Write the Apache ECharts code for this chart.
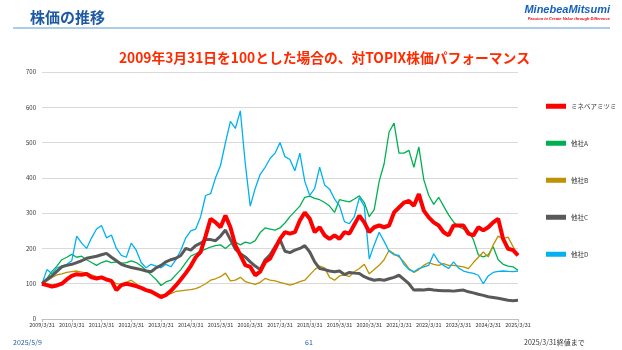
<!DOCTYPE html>
<html>
<head>
<meta charset="utf-8">
<script src="https://cdn.jsdelivr.net/npm/echarts@6/dist/echarts.min.js"></script>
<style>
  html, body { margin: 0; padding: 0; background: #fff; }
  #main { width: 622px; height: 350px; }
</style>
</head>
<body>
<div id="main"></div>
<script>
// bi-monthly samples from 2009/3/31 to 2025/3/31 (6 per year)
var dates = [];
for (var k = 0; k <= 96; k++) {
  var mi = 2 + 2 * k;
  var y = 2009 + Math.floor(mi / 12), m = (mi % 12) + 1;
  dates.push(y + '/' + m + '/' + new Date(y, m, 0).getDate());
}

var names = ['ミネベアミツミ', '他社A', '他社B', '他社C', '他社D'];

var minebea = [
  100, 96, 92, 95, 100, 112,
  122, 127, 125, 128, 118, 115,
  118, 112, 108, 82, 96, 100,
  97, 93, 88, 82, 78, 70,
  62, 68, 80, 95, 112, 130,
  150, 175, 190, 235, 284, 274,
  260, 293, 260, 209, 181, 153,
  148, 124, 134, 162, 171, 199,
  227, 246, 242, 246, 279, 302,
  284, 246, 260, 237, 227, 237,
  227, 246, 242, 268, 293, 274,
  246, 260, 265, 260, 265, 302,
  316, 330, 335, 321, 354, 307,
  288, 274, 265, 246, 237, 265,
  265, 265, 242, 237, 260, 251,
  260, 274, 284, 227, 199, 195,
  180
];
var compA = [
  100, 115, 135, 150, 168, 175,
  183, 175, 178, 168, 160, 152,
  160, 165, 160, 162, 158, 160,
  165, 160, 150, 138, 125, 112,
  95, 105, 110, 125, 140, 160,
  178, 185, 192, 198, 204, 208,
  210, 200, 212, 218, 210, 218,
  214, 222, 245, 258, 255, 252,
  258, 272, 290, 305, 320, 345,
  348, 342, 338, 330, 320, 302,
  338, 335, 332, 340, 349, 330,
  290, 310, 390, 440, 530, 555,
  470, 470, 478, 430, 488, 395,
  350, 325, 345, 320, 295, 275,
  262, 255, 250, 225, 182, 176,
  182, 205, 168, 155, 150, 148,
  138
];
var compB = [
  100, 108, 118, 125, 128, 132,
  134, 136, 133, 130, 125, 120,
  116, 114, 110, 100, 98, 104,
  110, 100, 88, 82, 78, 72,
  68, 68, 72, 78, 80, 82,
  83, 86, 92, 100, 110, 114,
  120, 130, 108, 110, 118, 106,
  102, 98, 104, 115, 110, 108,
  104, 100, 96, 100, 106, 110,
  125, 140, 150, 145, 118, 110,
  122, 125, 120, 134, 143, 155,
  128, 140, 152, 168, 195, 185,
  176, 162, 143, 132, 140, 152,
  160, 155, 152, 157, 152, 152,
  150, 148, 143, 160, 175, 190,
  176, 210, 235, 228, 232, 205,
  180
];
var compC = [
  100, 112, 122, 135, 148, 152,
  155, 160, 165, 172, 175, 178,
  182, 186, 175, 165, 155, 150,
  146, 143, 140, 136, 134, 145,
  152, 162, 168, 172, 180, 200,
  195, 208, 215, 225, 225, 222,
  235, 252, 225, 198, 185, 176,
  162, 150, 140, 168, 182, 205,
  225, 192, 188, 195, 200, 208,
  190, 162, 143, 140, 136, 134,
  136, 126, 132, 130, 129, 120,
  114, 110, 112, 110, 114, 118,
  124, 112, 100, 82, 83, 82,
  84, 82, 81, 80, 80, 79,
  81, 82, 77, 74, 70, 67,
  63, 61, 59, 56, 53, 52,
  53
];
var compD = [
  100, 140, 128, 145, 150, 155,
  165, 235, 215, 200, 230, 255,
  265, 230, 238, 200, 180, 175,
  215, 195, 160, 145, 155, 150,
  145, 155, 148, 168, 195, 230,
  250, 255, 290, 350, 355, 400,
  435, 500, 560, 540, 590, 440,
  320, 370, 410, 430, 455, 470,
  500, 460, 452, 420, 470, 390,
  350, 370, 430, 380, 368, 340,
  321, 276, 270, 290, 344, 320,
  170, 210, 246, 220, 192, 182,
  180, 155, 140, 134, 143, 148,
  152, 185, 162, 152, 143, 162,
  145, 136, 132, 129, 124, 100,
  122, 132, 135, 136, 135, 134,
  136
];

var colors = ['#ff0000', '#00b050', '#bf9000', '#595959', '#00b0f0'];
var widths = [4, 1.3, 1.3, 3, 1.3];
var values = [minebea, compA, compB, compC, compD];

var font = '"Noto Sans CJK JP", "Noto Sans", sans-serif';

var myChart = echarts.init(document.getElementById('main'));

myChart.setOption({
  animation: false,
  textStyle: { fontFamily: font },
  title: [
    {
      text: '株価の推移',
      left: 25, top: 5,
      textStyle: { fontSize: 15, fontWeight: 'bold', color: '#1f5aa6', fontFamily: font }
    },
    {
      text: '2009年3月31日を100とした場合の、対TOPIX株価パフォーマンス',
      left: 114, top: 46,
      textStyle: { fontSize: 13.75, fontWeight: 'bold', color: '#ff2a00', fontFamily: font }
    }
  ],
  graphic: [
    { type: 'line', shape: { x1: 13, y1: 28, x2: 610, y2: 28 }, style: { stroke: '#5b9bd5', lineWidth: 1.2 } },
    { type: 'text', right: 12, top: 4, style: { text: 'MinebeaMitsumi', font: 'italic bold 11px "Liberation Sans", sans-serif', fill: '#1560bd' } },
    { type: 'text', right: 12, top: 17, style: { text: 'Passion to Create Value through Difference', font: 'italic bold 4px "Liberation Sans", sans-serif', fill: '#e60012' } },
    { type: 'text', left: 13, top: 339, style: { text: '2025/5/9', font: '7px ' + font, fill: '#1f5aa6' } },
    { type: 'text', left: 305, top: 339, style: { text: '61', font: '7px ' + font, fill: '#1f5aa6' } },
    { type: 'text', left: 524, top: 339, style: { text: '2025/3/31終値まで', font: '7px ' + font, fill: '#333' } }
  ],
  legend: {
    orient: 'vertical',
    left: 541, top: 98,
    itemWidth: 20, itemHeight: 5, itemGap: 30.5,
    icon: 'rect',
    data: names,
    textStyle: { fontSize: 6.5, color: '#333', padding: [0, 0, 4, 0] }
  },
  grid: { left: 42, right: 104, top: 72, bottom: 31 },
  xAxis: {
    type: 'category',
    data: dates,
    boundaryGap: false,
    axisLine: { lineStyle: { color: '#bfbfbf' } },
    axisTick: { interval: 5, length: 3, lineStyle: { color: '#bfbfbf' } },
    axisLabel: {
      interval: 5, fontSize: 5.5, color: '#333', margin: 3,
      showMaxLabel: true
    }
  },
  yAxis: {
    type: 'value',
    min: 0, max: 700, interval: 100,
    axisLine: { show: false },
    axisTick: { show: false },
    axisLabel: { fontSize: 6, color: '#333', margin: 6 },
    splitLine: { lineStyle: { color: '#d9d9d9', width: 1 } }
  },
  series: names.map(function (n, i) {
    return {
      name: n,
      type: 'line',
      data: values[i],
      symbol: 'none',
      z: i === 0 ? 10 : (i === 3 ? 5 : 3),
      itemStyle: { color: colors[i] },
      lineStyle: { color: colors[i], width: widths[i] }
    };
  })
});
</script>
</body>
</html>
